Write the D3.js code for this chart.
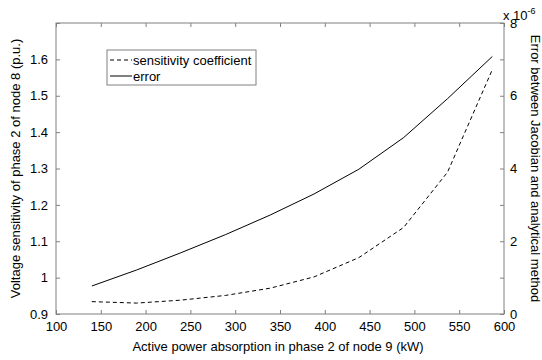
<!DOCTYPE html>
<html>
<head>
<meta charset="utf-8">
<script src="https://cdn.jsdelivr.net/npm/d3@7"></script>
<style>
body{margin:0;background:#fff;}
text{font-family:"Liberation Sans",Arial,sans-serif;fill:#000;}
</style>
</head>
<body>
<svg id="chart"></svg>
<script>
// data
var power = [140, 190, 239, 289, 339, 388, 438, 488, 537, 587]
var sensitivity = [0.934, 0.930, 0.938, 0.951, 0.971, 1.002, 1.055, 1.138, 1.290, 1.572]
var errorVals = [0.77, 1.21, 1.68, 2.18, 2.72, 3.30, 3.98, 4.85, 5.92, 7.08] // x 1e-6
var xTicks = [100,150,200,250,300,350,400,450,500,550,600]
var leftTicks = [0.9,1,1.1,1.2,1.3,1.4,1.5,1.6,1.7]
var rightTicks = [0,1,2,3,4,5,6,7,8]

var screen = {width:542,height:360}
var margins = {left:56,right:38,top:23,bottom:46}
var graph = {
    width:screen.width-margins.left-margins.right,
    height:screen.height-margins.top-margins.bottom
}
var axisColor = "#808080"

var svg = d3.select("#chart")
    .attr("width",screen.width)
    .attr("height",screen.height)

var xScale = d3.scaleLinear().domain([100,600]).range([0,graph.width])
var yLeft = d3.scaleLinear().domain([0.9,1.7]).range([graph.height,0])
var yRight = d3.scaleLinear().domain([0,8]).range([graph.height,0])

var target = svg.append("g")
    .attr("transform","translate("+margins.left+","+margins.top+")")

// box
target.append("rect")
    .attr("width",graph.width).attr("height",graph.height)
    .attr("fill","none").attr("stroke",axisColor).attr("stroke-width",1)

var styleAxis = function(g){
    g.select(".domain").remove()
    g.selectAll(".tick line").attr("stroke",axisColor)
    g.selectAll(".tick text").style("font-size","13px").attr("fill","#000")
}

// bottom axis (ticks inward)
target.append("g")
    .attr("transform","translate(0,"+graph.height+")")
    .call(d3.axisBottom(xScale).tickValues(xTicks).tickSizeInner(-4).tickSizeOuter(0).tickPadding(8).tickFormat(d3.format("d")))
    .call(styleAxis)
// top axis ticks
target.append("g")
    .call(d3.axisTop(xScale).tickValues(xTicks).tickSizeInner(-4).tickSizeOuter(0).tickFormat(""))
    .call(styleAxis)
// left axis
target.append("g")
    .call(d3.axisLeft(yLeft).tickValues(leftTicks).tickSizeInner(-4).tickSizeOuter(0).tickPadding(8)
        .tickFormat(function(d){ return d==1.7 ? "" : (d==1 ? "1" : d3.format(".1f")(d)) }))
    .call(styleAxis)
// right axis
target.append("g")
    .attr("transform","translate("+graph.width+",0)")
    .call(d3.axisRight(yRight).tickValues(rightTicks).tickSizeInner(-4).tickSizeOuter(0).tickPadding(6)
        .tickFormat(function(d){ return d%2==0 ? d : "" }))
    .call(styleAxis)

// lines
var sensLine = d3.line()
    .x(function(d,i){ return xScale(power[i]) })
    .y(function(d){ return yLeft(d) })
var errLine = d3.line()
    .x(function(d,i){ return xScale(power[i]) })
    .y(function(d){ return yRight(d) })

target.append("path")
    .datum(sensitivity)
    .attr("d",sensLine)
    .attr("fill","none").attr("stroke","#000").attr("stroke-width",1)
    .attr("stroke-dasharray","4,3")
target.append("path")
    .datum(errorVals)
    .attr("d",errLine)
    .attr("fill","none").attr("stroke","#000").attr("stroke-width",1)

// exponent label
var expo = svg.append("text")
    .attr("x",margins.left+graph.width-1)
    .attr("y",20)
    .style("font-size","13px")
expo.append("tspan").text("x 10")
expo.append("tspan").text("-6").attr("dy",-6).style("font-size","9px")

// legend
var legendEntries = [
    {name:"sensitivity coefficient",dash:"4,3"},
    {name:"error",dash:null}
]
var legend = svg.append("g")
    .attr("transform","translate(107,50)")
legend.append("rect")
    .attr("width",149).attr("height",35)
    .attr("fill","#fff").attr("stroke",axisColor)
var entries = legend.selectAll("g.entry")
    .data(legendEntries)
    .enter()
    .append("g")
    .attr("class","entry")
    .attr("transform",function(d,i){ return "translate(0,"+(10+i*16)+")" })
entries.append("line")
    .attr("x1",3).attr("x2",25).attr("y1",0).attr("y2",0)
    .attr("stroke","#000").attr("stroke-width",1)
    .attr("stroke-dasharray",function(d){ return d.dash })
entries.append("text")
    .text(function(d){ return d.name })
    .attr("x",26).attr("y",4.5)
    .style("font-size","13px")

// axis labels
svg.append("text")
    .text("Active power absorption in phase 2 of node 9 (kW)")
    .attr("text-anchor","middle")
    .attr("x",margins.left+graph.width/2-2)
    .attr("y",351)
    .style("font-size","13px")
svg.append("text")
    .text("Voltage sensitivity of phase 2 of node 8 (p.u.)")
    .attr("text-anchor","middle")
    .attr("transform","translate(20,"+(margins.top+graph.height/2)+") rotate(-90)")
    .style("font-size","13px")
svg.append("text")
    .text("Error between Jacobian and analytical method")
    .attr("text-anchor","middle")
    .attr("transform","translate(531,"+(margins.top+graph.height/2)+") rotate(90)")
    .style("font-size","13px")
</script>
</body>
</html>
